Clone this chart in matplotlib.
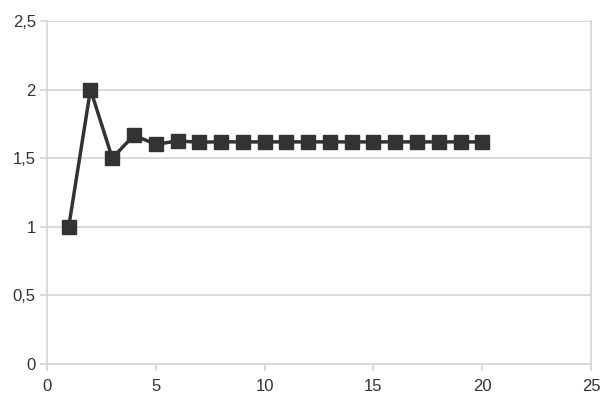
import matplotlib
matplotlib.use("Agg")
import matplotlib.pyplot as plt
from matplotlib.ticker import FuncFormatter

n_values = list(range(1, 21))
ratios = [1.0, 2.0, 1.5, 1.6667, 1.6, 1.625, 1.6154, 1.619, 1.6176, 1.6182,
          1.618, 1.6181, 1.618, 1.618, 1.618, 1.618, 1.618, 1.618, 1.618, 1.618]
x_ticks = [0, 5, 10, 15, 20, 25]
y_ticks = [0, 0.5, 1, 1.5, 2, 2.5]

plt.rcParams['font.family'] = ['Liberation Sans', 'DejaVu Sans']
fig = plt.figure(figsize=(6.02, 3.95), dpi=100)
ax = fig.add_axes([0.078, 0.079, 0.904, 0.868])

grid_c = '#d4d4d4'
ax.plot(n_values, ratios, color='#333333', lw=2.5, marker='s', ms=9.5,
        markerfacecolor='#333333', markeredgecolor='#333333', zorder=3, clip_on=False)

ax.set_xlim(0, 25)
ax.set_ylim(0, 2.5)
ax.set_xticks(x_ticks)
ax.set_yticks(y_ticks)
fmt = FuncFormatter(lambda v, p: (f"{v:g}").replace('.', ','))
ax.yaxis.set_major_formatter(fmt)
ax.xaxis.set_major_formatter(fmt)
ax.grid(axis='y', color=grid_c, lw=1.2)
ax.set_axisbelow(True)
for s in ['left', 'right', 'bottom']:
    ax.spines[s].set_color(grid_c)
    ax.spines[s].set_linewidth(1.2)
ax.spines['top'].set_visible(False)
ax.tick_params(axis='both', colors=grid_c, labelcolor='#333333', labelsize=12,
               length=5, width=1.2)
ax.tick_params(axis='x', pad=6)
ax.tick_params(axis='y', pad=3)

fig.savefig('out.png', dpi=100)
